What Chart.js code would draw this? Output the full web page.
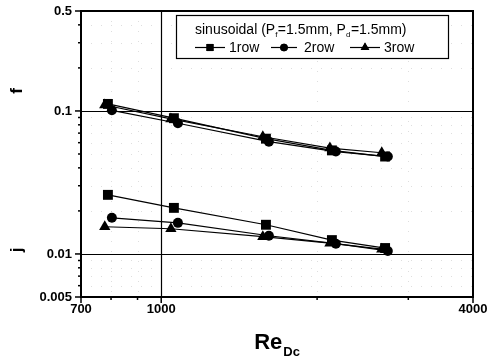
<!DOCTYPE html>
<html>
<head>
<meta charset="utf-8">
<script src="https://cdn.jsdelivr.net/npm/chart.js@4/dist/chart.umd.min.js"></script>
<style>
html,body{margin:0;padding:0;background:#fff;}
canvas{display:block;}
</style>
</head>
<body>
<canvas id="c" width="488" height="363"></canvas>
<script>
// ---- data ----
const reRow1 = [789, 1058, 1593, 2136, 2706];
const fRow1  = [0.112, 0.089, 0.064, 0.053, 0.048];
const jRow1  = [0.0259, 0.0210, 0.0160, 0.0125, 0.0110];

const reRow2 = [803, 1077, 1614, 2174, 2739];
const fRow2  = [0.101, 0.082, 0.061, 0.052, 0.048];
const jRow2  = [0.0179, 0.0165, 0.0134, 0.0118, 0.0105];

const reRow3 = [778, 1044, 1571, 2117, 2666];
const fRow3  = [0.110, 0.088, 0.066, 0.055, 0.051];
const jRow3  = [0.0155, 0.0150, 0.0132, 0.0119, 0.0108];

const seriesNames = ['1row', '2row', '3row'];
const xTicks = [700, 1000, 4000];
const xTickLabels = ['700', '1000', '4000'];
const xMinorTicks = [800, 900, 2000, 3000];
const yTicks = [0.5, 0.1, 0.01, 0.005];
const yTickLabels = ['0.5', '0.1', '0.01', '0.005'];
const yMinorTicks = [0.2, 0.3, 0.4, 0.02, 0.03, 0.04, 0.05, 0.06, 0.07, 0.08, 0.09, 0.006, 0.007, 0.008, 0.009];
const xGridValues = [1000];
const yGridValues = [0.1, 0.01];

const FONT = '"Liberation Sans", Arial, Helvetica, sans-serif';
const styles = ['rect', 'circle', 'triangle'];
const radii = [7, 5, 6.5];

function pts(xs, ys) { return xs.map((x, i) => ({x: x, y: ys[i]})); }

const rows = [[reRow1, fRow1, jRow1], [reRow2, fRow2, jRow2], [reRow3, fRow3, jRow3]];
const datasets = [];
rows.forEach((r, i) => {
  [r[1], r[2]].forEach((vals, k) => {
    datasets.push({
      label: seriesNames[i] + (k === 0 ? ' f' : ' j'),
      data: pts(r[0], vals),
      showLine: true,
      borderColor: '#000',
      backgroundColor: '#000',
      borderWidth: 1.2,
      pointStyle: styles[i],
      pointRadius: radii[i],
      pointBorderWidth: 0,
      pointBackgroundColor: '#000',
      tension: 0
    });
  });
});

const decor = {
  id: 'decor',
  beforeDatasetsDraw(chart) {
    const ctx = chart.ctx, a = chart.chartArea;
    const xs = chart.scales.x, ys = chart.scales.y;
    ctx.save();
    ctx.strokeStyle = 'rgba(0,0,0,0.13)';
    ctx.lineWidth = 1;
    ctx.setLineDash([1, 9]);
    yMinorTicks.forEach(v => {
      const y = Math.round(ys.getPixelForValue(v)) + 0.5;
      ctx.beginPath(); ctx.moveTo(a.left, y); ctx.lineTo(a.right, y); ctx.stroke();
    });
    xMinorTicks.forEach(v => {
      const x = Math.round(xs.getPixelForValue(v)) + 0.5;
      ctx.beginPath(); ctx.moveTo(x, a.top); ctx.lineTo(x, a.bottom); ctx.stroke();
    });
    ctx.setLineDash([]);
    ctx.strokeStyle = '#000';
    ctx.lineWidth = 1.2;
    yGridValues.forEach(v => {
      const y = Math.round(ys.getPixelForValue(v)) + 0.5;
      ctx.beginPath(); ctx.moveTo(a.left, y); ctx.lineTo(a.right, y); ctx.stroke();
    });
    xGridValues.forEach(v => {
      const x = Math.round(xs.getPixelForValue(v)) + 0.5;
      ctx.beginPath(); ctx.moveTo(x, a.top); ctx.lineTo(x, a.bottom); ctx.stroke();
    });
    ctx.restore();
  },
  afterDraw(chart) {
    const ctx = chart.ctx, a = chart.chartArea;
    const xs = chart.scales.x, ys = chart.scales.y;
    ctx.save();
    // frame
    ctx.strokeStyle = '#000';
    ctx.lineWidth = 2;
    ctx.strokeRect(a.left, a.top, a.right - a.left, a.bottom - a.top);
    // ticks
    ctx.lineWidth = 1.5;
    yTicks.forEach(v => {
      const y = ys.getPixelForValue(v);
      ctx.beginPath(); ctx.moveTo(a.left - 6, y); ctx.lineTo(a.left, y); ctx.stroke();
    });
    yMinorTicks.forEach(v => {
      const y = ys.getPixelForValue(v);
      ctx.beginPath(); ctx.moveTo(a.left - 3, y); ctx.lineTo(a.left, y); ctx.stroke();
    });
    xTicks.forEach(v => {
      const x = xs.getPixelForValue(v);
      ctx.beginPath(); ctx.moveTo(x, a.bottom); ctx.lineTo(x, a.bottom + 6); ctx.stroke();
    });
    xMinorTicks.forEach(v => {
      const x = xs.getPixelForValue(v);
      ctx.beginPath(); ctx.moveTo(x, a.bottom); ctx.lineTo(x, a.bottom + 3); ctx.stroke();
    });
    // tick labels
    ctx.fillStyle = '#000';
    ctx.font = 'bold 13px ' + FONT;
    ctx.textAlign = 'right';
    ctx.textBaseline = 'middle';
    yTicks.forEach((v, i) => ctx.fillText(yTickLabels[i], a.left - 9, ys.getPixelForValue(v)));
    ctx.textAlign = 'center';
    ctx.textBaseline = 'top';
    xTicks.forEach((v, i) => ctx.fillText(xTickLabels[i], xs.getPixelForValue(v), a.bottom + 6));
    // axis titles
    ctx.textAlign = 'left';
    ctx.textBaseline = 'alphabetic';
    ctx.font = 'bold 22px ' + FONT;
    const reW = ctx.measureText('Re').width;
    ctx.font = 'bold 13px ' + FONT;
    const dcW = ctx.measureText('Dc').width;
    const cx = (a.left + a.right) / 2;
    const startX = cx - (reW + dcW + 1) / 2;
    ctx.font = 'bold 22px ' + FONT;
    ctx.fillText('Re', startX, 349);
    ctx.font = 'bold 13px ' + FONT;
    ctx.fillText('Dc', startX + reW + 1, 356);
    ctx.font = 'bold 17px ' + FONT;
    ctx.textAlign = 'center';
    ctx.textBaseline = 'middle';
    [['f', 17, 91], ['j', 17, 250]].forEach(t => {
      ctx.save(); ctx.translate(t[1], t[2]); ctx.rotate(-Math.PI / 2);
      ctx.fillText(t[0], 0, 0); ctx.restore();
    });
    // legend
    const L = {x: 176, y: 15, w: 272, h: 43};
    ctx.fillStyle = '#fff';
    ctx.fillRect(L.x, L.y, L.w, L.h);
    ctx.strokeStyle = '#000';
    ctx.lineWidth = 1.2;
    ctx.strokeRect(L.x + 0.5, L.y + 0.5, L.w, L.h);
    ctx.fillStyle = '#000';
    ctx.textAlign = 'left';
    ctx.textBaseline = 'alphabetic';
    const parts = [['sinusoidal (P', 0], ['f', 1], ['=1.5mm, P', 0], ['d', 1], ['=1.5mm)', 0]];
    let px = 195;
    parts.forEach(p => {
      ctx.font = (p[1] ? '8px ' : '14px ') + FONT;
      ctx.fillText(p[0], px, p[1] ? 37 : 34);
      px += ctx.measureText(p[0]).width + (p[1] ? 0.5 : 0);
    });
    const items = [{x0: 195, mk: 210, tx: 229}, {x0: 271, mk: 284, tx: 304}, {x0: 350, mk: 365, tx: 384}];
    items.forEach((it, i) => {
      const y = 47.5;
      ctx.lineWidth = 1.2;
      ctx.beginPath(); ctx.moveTo(it.x0, y); ctx.lineTo(it.x0 + (it.mk - it.x0) * 2, y); ctx.stroke();
      Chart.helpers.drawPoint(ctx, {pointStyle: styles[i], radius: [5, 3.8, 5][i], borderWidth: 0}, it.mk, y);
      ctx.fill();
      ctx.font = '14px ' + FONT;
      ctx.fillText(seriesNames[i], it.tx, 52);
    });
    ctx.restore();
  }
};

new Chart(document.getElementById('c'), {
  type: 'scatter',
  data: {datasets: datasets},
  options: {
    responsive: false,
    animation: false,
    devicePixelRatio: 1,
    layout: {padding: {top: 11, right: 15, left: 0, bottom: 0}},
    plugins: {legend: {display: false}, tooltip: {enabled: false}},
    scales: {
      x: {
        type: 'logarithmic', min: 700, max: 4000,
        afterFit: s => { s.height = 66; },
        afterBuildTicks: s => { s.ticks = xTicks.map(v => ({value: v})); },
        ticks: {display: false},
        grid: {display: false},
        border: {display: false}
      },
      y: {
        type: 'logarithmic', min: 0.005, max: 0.5,
        afterFit: s => { s.width = 81; },
        afterBuildTicks: s => { s.ticks = yTicks.map(v => ({value: v})); },
        ticks: {display: false},
        grid: {display: false},
        border: {display: false}
      }
    }
  },
  plugins: [decor]
});
</script>
</body>
</html>
